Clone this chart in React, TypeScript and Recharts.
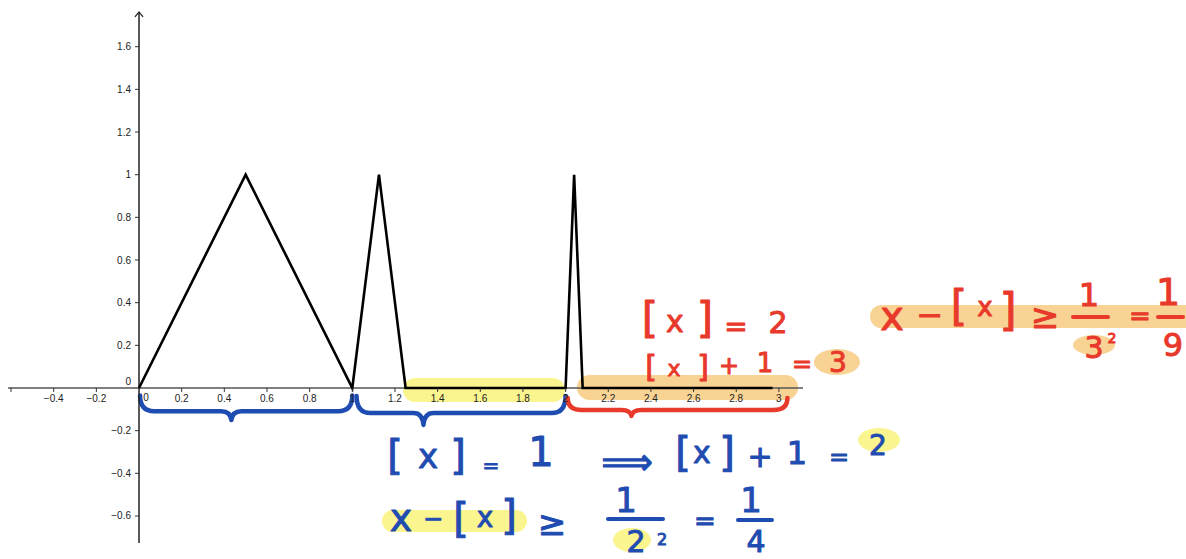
import React from "react"
import { LineChart, Line, XAxis, YAxis, ReferenceLine, ReferenceArea, ReferenceDot } from "recharts"

const W = 1186
const H = 559

// graph of the function (x, y)
const fx = [0, 0.5, 1, 1.125, 1.25, 2, 2.04, 2.08, 2.97]
const fy = [0, 1, 0, 1, 0, 0, 1, 0, 0]

const xTickValues = [-0.6, -0.4, -0.2, 0.2, 0.4, 0.6, 0.8, 1, 1.2, 1.4, 1.6, 1.8, 2, 2.2, 2.4, 2.6, 2.8, 3]
const xTickLabels = ["", "−0.4", "−0.2", "0.2", "0.4", "0.6", "0.8", "1", "1.2", "1.4", "1.6", "1.8", "2", "2.2", "2.4", "2.6", "2.8", "3"]
const yTickValues = [-0.6, -0.4, -0.2, 0.2, 0.4, 0.6, 0.8, 1, 1.2, 1.4, 1.6]
const yTickLabels = ["−0.6", "−0.4", "−0.2", "0.2", "0.4", "0.6", "0.8", "1", "1.2", "1.4", "1.6"]

// visible window and axis extents (data units)
const xDomain = [-0.6517, 4.9086]
const yDomain = [-0.8017, 1.819]
const xAxisExtent = [-0.614, 3.113]
const yAxisExtent = [-0.727, 1.763]

// highlighter strokes along the x axis: [x1, x2, y1, y2]
const yellowBand = [1.238, 1.997, 0.047, -0.066]
const orangeBand = [2.053, 3.09, 0.061, -0.056]

// braces under the intervals: [x1, x2, yTop, yTip, tip position, mid depth]
const braceBlue1 = [0.005, 1.0, -0.035, -0.15, 0.43, 0.64]
const braceBlue2 = [1.02, 2.0, -0.0375, -0.173, 0.32, 0.59]
const braceRed = [2.01, 3.04, -0.047, -0.131, 0.29, 0.67]

const RED = "#e8392b"
const BLUE = "#1f4cb0"
const YELLOW = "#fbf58f"
const ORANGE = "#f8d394"

const data = fx.map((x, i) => ({ x, y: fy[i] }))

function bracePath(x: number, y: number, w: number, h: number, f: number, m: number) {
  const xt = x + w * f
  const ym = y + h * m
  const r = Math.min(14, w * 0.08)
  return [
    `M${x},${y}`,
    `Q${x},${ym} ${x + r},${ym}`,
    `L${xt - 10},${ym}`,
    `Q${xt - 1},${ym} ${xt},${y + h}`,
    `Q${xt + 1},${ym} ${xt + 10},${ym}`,
    `L${x + w - r},${ym}`,
    `Q${x + w},${ym} ${x + w},${y}`,
  ].join(" ")
}

function braceShape(color: string, f: number, m: number) {
  return (p: any) => (
    <path
      d={bracePath(p.x, p.y, p.width, p.height, f, m)}
      fill="none"
      stroke={color}
      strokeWidth={4.5}
      strokeLinecap="round"
      strokeLinejoin="round"
    />
  )
}

function bandShape(color: string) {
  return (p: any) => (
    <rect x={p.x} y={p.y} width={p.width} height={p.height} rx={p.height / 2} fill={color} />
  )
}

// handwritten notes: [text, centre x, centre y, size]
const redNotes: [string, number, number, number][] = [
  ["[", 650, 318, 42], ["x", 675, 321, 30], ["]", 705, 318, 42], ["=", 736, 326, 28], ["2", 778, 322, 30],
  ["[", 651, 366, 30], ["x", 674, 368, 22], ["]", 703, 366, 30], ["+", 729, 366, 24], ["1", 765, 363, 26],
  ["=", 802, 364, 24], ["3", 838, 362, 28],
  ["x", 892, 316, 40], ["−", 930, 315, 32], ["[", 959, 306, 42], ["x", 985, 307, 26], ["]", 1008, 309, 44],
  ["≥", 1045, 316, 34], ["1", 1089, 295, 32], ["3", 1094, 347, 30], ["2", 1112, 338, 14], ["=", 1140, 316, 26],
  ["1", 1168, 292, 38], ["9", 1173, 345, 32],
]
const blueNotes: [string, number, number, number][] = [
  ["[", 395, 455, 40], ["x", 428, 456, 34], ["]", 458, 455, 40], ["=", 491, 465, 20], ["1", 541, 452, 40],
  ["⟹", 627, 461, 36], ["[", 683, 452, 40], ["x", 702, 452, 30], ["]", 727, 452, 40], ["+", 760, 456, 30],
  ["1", 797, 453, 32], ["=", 839, 457, 24], ["2", 878, 445, 28],
  ["x", 401, 518, 38], ["−", 433, 519, 24], ["[", 461, 518, 40], ["x", 485, 517, 28], ["]", 509, 515, 40],
  ["≥", 552, 523, 34], ["1", 626, 500, 34], ["2", 636, 541, 30], ["2", 662, 539, 16], ["=", 705, 521, 26],
  ["1", 751, 500, 34], ["4", 756, 541, 30],
]

function Notes() {
  const font = "'DejaVu Sans', 'Liberation Sans', sans-serif"
  const draw = (list: [string, number, number, number][], color: string) =>
    list.map(([t, x, y, s], i) => (
      <text
        key={color + i}
        x={x}
        y={y}
        fontSize={s}
        fontFamily={font}
        textAnchor="middle"
        dominantBaseline="central"
        fill={color}
        stroke={color}
        strokeWidth={1}
        strokeLinejoin="round"
      >
        {t}
      </text>
    ))
  return (
    <svg width={W} height={H} style={{ position: "absolute", left: 0, top: 0, pointerEvents: "none" }}>
      {/* highlighter marks */}
      <rect x={870} y={305} width={330} height={23} rx={11.5} fill={ORANGE} />
      <ellipse cx={837} cy={362} rx={23} ry={13} fill={ORANGE} />
      <ellipse cx={1094} cy={345} rx={21} ry={10} fill={ORANGE} />
      <rect x={382} y={510} width={145} height={22} rx={11} fill={YELLOW} />
      <ellipse cx={879} cy={440} rx={21} ry={12} fill={YELLOW} />
      <ellipse cx={632} cy={540} rx={19} ry={12} fill={YELLOW} />
      {/* fraction bars */}
      <g strokeWidth={4} strokeLinecap="round">
        <line x1={1073} y1={317} x2={1108} y2={317} stroke={RED} />
        <line x1={1158} y1={317} x2={1183} y2={317} stroke={RED} />
        <line x1={608} y1={519} x2={663} y2={519} stroke={BLUE} />
        <line x1={738} y1={520} x2={772} y2={520} stroke={BLUE} />
      </g>
      {draw(redNotes, RED)}
      {draw(blueNotes, BLUE)}
    </svg>
  )
}

export default function App() {
  const tickFont = "'Liberation Sans', Arial, sans-serif"
  return (
    <div style={{ position: "absolute", left: 0, top: 0, width: W, height: H, background: "#fff" }}>
      <LineChart width={W} height={H} data={data} margin={{ top: 0, right: 0, bottom: 0, left: 0 }}>
        <XAxis type="number" dataKey="x" domain={xDomain} allowDataOverflow hide />
        <YAxis type="number" domain={yDomain} allowDataOverflow hide />

        <ReferenceArea x1={yellowBand[0]} x2={yellowBand[1]} y1={yellowBand[2]} y2={yellowBand[3]} shape={bandShape(YELLOW)} />
        <ReferenceArea x1={orangeBand[0]} x2={orangeBand[1]} y1={orangeBand[2]} y2={orangeBand[3]} shape={bandShape(ORANGE)} />

        <ReferenceLine segment={[{ x: xAxisExtent[0], y: 0 }, { x: xAxisExtent[1], y: 0 }]} stroke="#555" strokeWidth={1.6} />
        <ReferenceLine segment={[{ x: 0, y: yAxisExtent[0] }, { x: 0, y: yAxisExtent[1] }]} stroke="#222" strokeWidth={1.5} />
        <ReferenceDot
          x={0}
          y={yAxisExtent[1]}
          r={1}
          shape={(p: any) => (
            <path d={`M${p.cx - 4},${p.cy + 5} L${p.cx},${p.cy} L${p.cx + 4},${p.cy + 5}`} fill="none" stroke="#222" strokeWidth={1.3} />
          )}
        />

        {xTickValues.map((v, i) => (
          <ReferenceDot
            key={"xt" + v}
            x={v}
            y={0}
            r={1}
            shape={(p: any) => (
              <g>
                <line x1={p.cx} y1={p.cy} x2={p.cx} y2={p.cy + 4} stroke="#333" strokeWidth={1} />
                <text x={p.cx} y={p.cy + 11} textAnchor="middle" dominantBaseline="central" fontSize={10} fontFamily={tickFont} fill="#222">
                  {xTickLabels[i]}
                </text>
              </g>
            )}
          />
        ))}
        {yTickValues.map((v, i) => (
          <ReferenceDot
            key={"yt" + v}
            x={0}
            y={v}
            r={1}
            shape={(p: any) => (
              <g>
                <line x1={p.cx - 4} y1={p.cy} x2={p.cx} y2={p.cy} stroke="#333" strokeWidth={1} />
                <text x={p.cx - 8} y={p.cy} textAnchor="end" dominantBaseline="central" fontSize={10} fontFamily={tickFont} fill="#222">
                  {yTickLabels[i]}
                </text>
              </g>
            )}
          />
        ))}
        <ReferenceDot
          x={0}
          y={0}
          r={1}
          shape={(p: any) => (
            <g fontSize={10} fontFamily={tickFont} fill="#222">
              <text x={p.cx - 8} y={p.cy - 6} textAnchor="end" dominantBaseline="central">0</text>
              <text x={p.cx + 7} y={p.cy + 10} textAnchor="middle" dominantBaseline="central">0</text>
            </g>
          )}
        />

        <Line type="linear" dataKey="y" stroke="#000" strokeWidth={2.6} dot={false} activeDot={false} isAnimationActive={false} />

        <ReferenceArea x1={braceBlue1[0]} x2={braceBlue1[1]} y1={braceBlue1[2]} y2={braceBlue1[3]} shape={braceShape(BLUE, braceBlue1[4], braceBlue1[5])} />
        <ReferenceArea x1={braceBlue2[0]} x2={braceBlue2[1]} y1={braceBlue2[2]} y2={braceBlue2[3]} shape={braceShape(BLUE, braceBlue2[4], braceBlue2[5])} />
        <ReferenceArea x1={braceRed[0]} x2={braceRed[1]} y1={braceRed[2]} y2={braceRed[3]} shape={braceShape(RED, braceRed[4], braceRed[5])} />
      </LineChart>
      <Notes />
    </div>
  )
}
